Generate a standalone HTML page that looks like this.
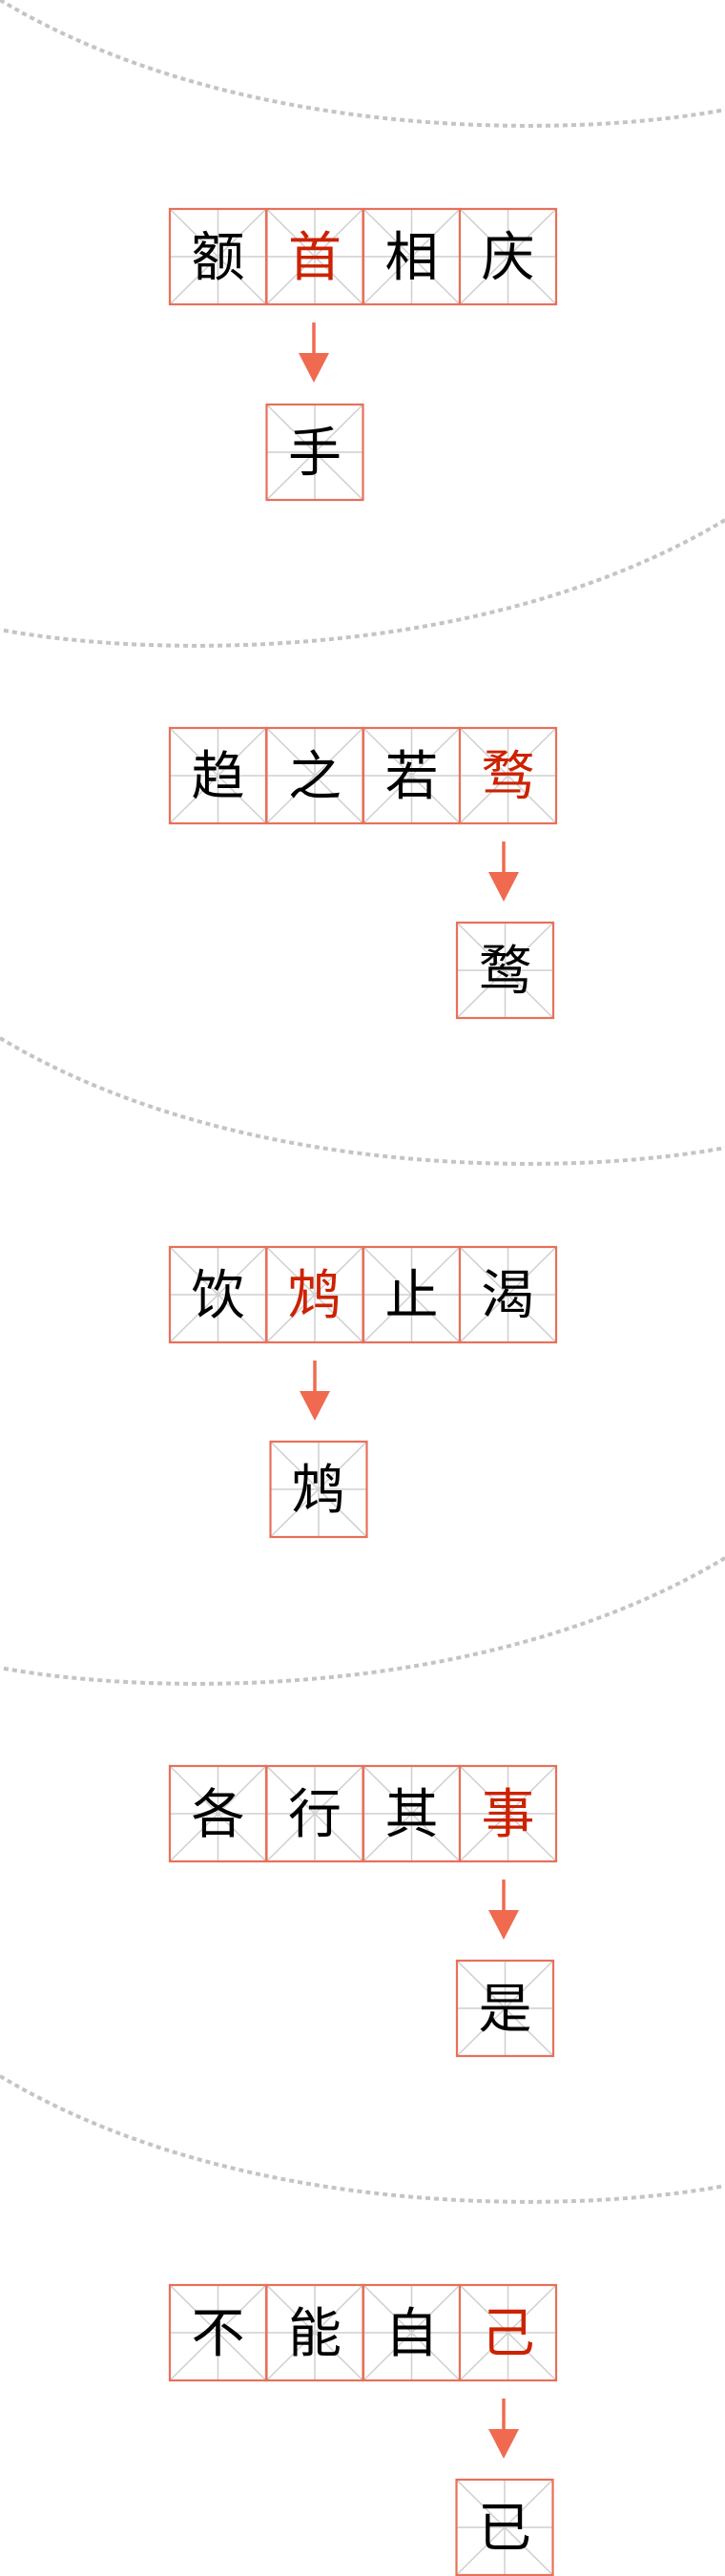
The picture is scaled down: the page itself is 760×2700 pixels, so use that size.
<!DOCTYPE html>
<html><head><meta charset="utf-8"><style>
html,body{margin:0;padding:0;background:#fff;}
svg{display:block;}
text{font-family:"Liberation Sans","Noto Sans CJK SC",sans-serif;font-size:56px;}
</style></head><body>
<svg width="760" height="2700" viewBox="0 0 760 2700" xmlns="http://www.w3.org/2000/svg">
<defs>
<path id="cv" d="M0,0 C250,150 600,145 760,115" fill="none" stroke="#c4c4c4" stroke-width="4" stroke-dasharray="5,4"/>
<g id="cell">
<rect x="0" y="0" width="101" height="100" fill="#fff" stroke="none"/>
<g stroke="#cfcfcf" stroke-width="1.5">
<line x1="0" y1="0" x2="101" y2="100"/><line x1="101" y1="0" x2="0" y2="100"/>
<line x1="50.5" y1="0" x2="50.5" y2="100"/><line x1="0" y1="50" x2="101" y2="50"/>
</g>
<rect x="0" y="0" width="101" height="100" fill="none" stroke="#e8705a" stroke-width="2.2"/>
</g>
<g id="arr">
<line x1="0" y1="0" x2="0" y2="34" stroke="#f06a50" stroke-width="3.5"/>
<polygon points="-16,32 16,32 0,63" fill="#f06a50"/>
</g>
</defs>

<use href="#cv" transform="translate(0,0)"/>
<use href="#cv" transform="translate(760,545) scale(-1,1)"/>
<use href="#cv" transform="translate(0,1088)"/>
<use href="#cv" transform="translate(760,1633) scale(-1,1)"/>
<use href="#cv" transform="translate(0,2176)"/>

<g transform="translate(0,219)">
<use href="#cell" x="178"/><use href="#cell" x="279.5"/><use href="#cell" x="381"/><use href="#cell" x="482"/>
<g text-anchor="middle">
<text x="228.5" y="70">额</text><text x="330" y="70" fill="#cc2200">首</text><text x="431.5" y="70">相</text><text x="532.5" y="70">庆</text>
</g>
<use href="#arr" x="329" y="119"/>
<use href="#cell" x="279.5" y="205"/>
<text x="330" y="275" text-anchor="middle">手</text>
</g>

<g transform="translate(0,763)">
<use href="#cell" x="178"/><use href="#cell" x="279.5"/><use href="#cell" x="381"/><use href="#cell" x="482"/>
<g text-anchor="middle">
<text x="228.5" y="70">趋</text><text x="330" y="70">之</text><text x="431.5" y="70">若</text><text x="532.5" y="70" fill="#cc2200">骛</text>
</g>
<use href="#arr" x="528" y="119"/>
<use href="#cell" x="479" y="204"/>
<text x="529.5" y="274" text-anchor="middle">鹜</text>
</g>

<g transform="translate(0,1307)">
<use href="#cell" x="178"/><use href="#cell" x="279.5"/><use href="#cell" x="381"/><use href="#cell" x="482"/>
<g text-anchor="middle">
<text x="228.5" y="70">饮</text><text x="330" y="70" fill="#cc2200">鸩</text><text x="431.5" y="70">止</text><text x="532.5" y="70">渴</text>
</g>
<use href="#arr" x="330" y="119"/>
<use href="#cell" x="283.5" y="204"/>
<text x="334" y="274" text-anchor="middle">鸩</text>
</g>

<g transform="translate(0,1851)">
<use href="#cell" x="178"/><use href="#cell" x="279.5"/><use href="#cell" x="381"/><use href="#cell" x="482"/>
<g text-anchor="middle">
<text x="228.5" y="70">各</text><text x="330" y="70">行</text><text x="431.5" y="70">其</text><text x="532.5" y="70" fill="#cc2200">事</text>
</g>
<use href="#arr" x="528" y="119"/>
<use href="#cell" x="479" y="204"/>
<text x="529.5" y="274" text-anchor="middle">是</text>
</g>

<g transform="translate(0,2395)">
<use href="#cell" x="178"/><use href="#cell" x="279.5"/><use href="#cell" x="381"/><use href="#cell" x="482"/>
<g text-anchor="middle">
<text x="228.5" y="70">不</text><text x="330" y="70">能</text><text x="431.5" y="70">自</text><text x="532.5" y="70" fill="#cc2200">己</text>
</g>
<use href="#arr" x="528" y="119"/>
<use href="#cell" x="478.5" y="204"/>
<text x="529" y="274" text-anchor="middle">已</text>
</g>
</svg>
</body></html>
